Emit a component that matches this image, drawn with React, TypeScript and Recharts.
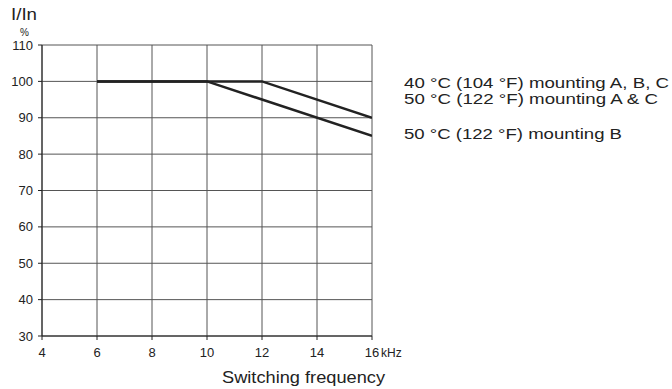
import React from "react";
import { LineChart, Line, XAxis, YAxis, CartesianGrid } from "recharts";

const xTicks = [4, 6, 8, 10, 12, 14, 16];
const yTicks = [30, 40, 50, 60, 70, 80, 90, 100, 110];

const series40 = [
  { f: 6, v: 100 },
  { f: 12, v: 100 },
  { f: 16, v: 90 },
];
const series50B = [
  { f: 6, v: 100 },
  { f: 10, v: 100 },
  { f: 16, v: 85 },
];

const legendLines = [
  "40 °C (104 °F) mounting A, B, C",
  "50 °C (122 °F) mounting A & C",
  "50 °C (122 °F) mounting B",
];

const FONT = '"Liberation Sans", Arial, Helvetica, sans-serif';
const INK = "#222";

const XTick = (props: any) => {
  const { x, y, payload } = props;
  const v = payload.value;
  return (
    <g>
      <text x={x} y={y} dy="0.71em" textAnchor="middle" fontSize={13} fill={INK} fontFamily={FONT}>
        {v}
      </text>
      {v === 16 && (
        <text x={x + 9} y={y} dy="0.71em" textAnchor="start" fontSize={12} fill={INK} fontFamily={FONT}>
          kHz
        </text>
      )}
    </g>
  );
};

export default function App() {
  return (
    <div style={{ position: "absolute", left: 0, top: 0, width: 672, height: 389, background: "#fff" }}>
      <LineChart
        width={672}
        height={389}
        margin={{ top: 45, right: 300, bottom: 23, left: 0 }}
      >
        <CartesianGrid stroke="#555" strokeWidth={1} vertical horizontal />
        <XAxis
          type="number"
          dataKey="f"
          domain={[4, 16]}
          ticks={xTicks}
          allowDataOverflow
          height={30}
          tickSize={4}
          tickMargin={8}
          stroke={INK}
          tick={<XTick />}
        />
        <YAxis
          type="number"
          dataKey="v"
          domain={[30, 110]}
          ticks={yTicks}
          allowDataOverflow
          width={42}
          tickSize={4}
          tickMargin={5}
          stroke={INK}
          tick={{ fontSize: 13, fill: INK, fontFamily: FONT }}
        />
        <Line
          data={series40}
          dataKey="v"
          type="linear"
          stroke={INK}
          strokeWidth={2.5}
          dot={false}
          activeDot={false}
          isAnimationActive={false}
        />
        <Line
          data={series50B}
          dataKey="v"
          type="linear"
          stroke={INK}
          strokeWidth={2.5}
          dot={false}
          activeDot={false}
          isAnimationActive={false}
        />
      </LineChart>
      <svg
        width={672}
        height={389}
        style={{ position: "absolute", left: 0, top: 0, pointerEvents: "none" }}
        fontFamily={FONT}
        fill={INK}
      >
        <text x={11} y={20} fontSize={16} textLength={26} lengthAdjust="spacingAndGlyphs">I/In</text>
        <text x={20} y={36} fontSize={10}>%</text>
        <text x={222} y={383} fontSize={17} textLength={163} lengthAdjust="spacingAndGlyphs">
          Switching frequency
        </text>
        <text x={404} y={88} fontSize={15} textLength={265} lengthAdjust="spacingAndGlyphs">
          {legendLines[0]}
        </text>
        <text x={404} y={104} fontSize={15} textLength={254} lengthAdjust="spacingAndGlyphs">
          {legendLines[1]}
        </text>
        <text x={404} y={139} fontSize={15} textLength={218} lengthAdjust="spacingAndGlyphs">
          {legendLines[2]}
        </text>
      </svg>
    </div>
  );
}
